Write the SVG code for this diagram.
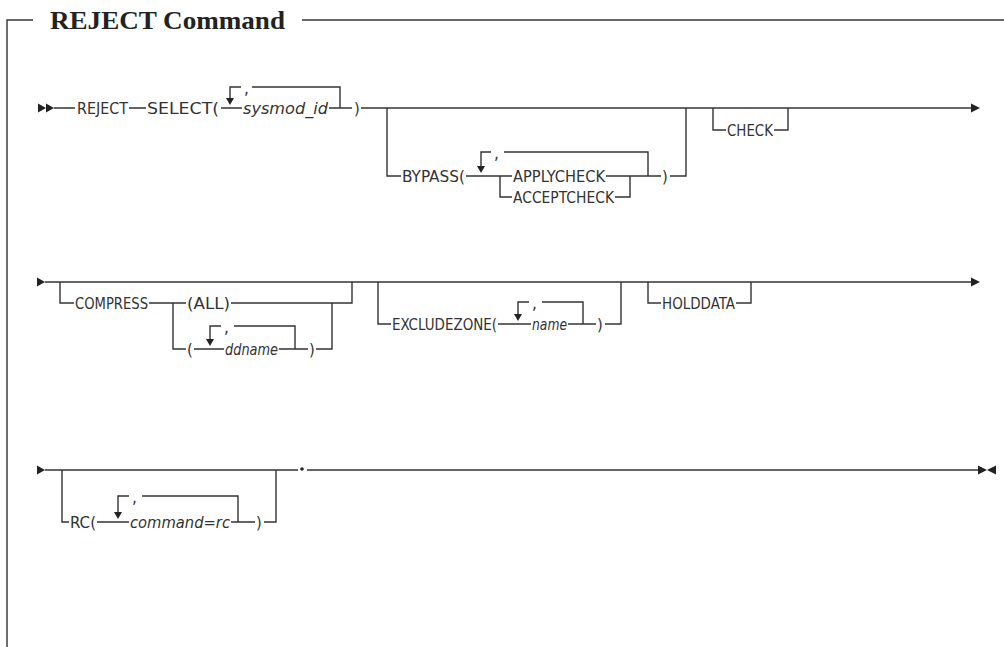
<svg xmlns="http://www.w3.org/2000/svg" width="1004" height="647" viewBox="0 0 1004 647">
<style>
.l{stroke:#333;stroke-width:1.4;fill:none}
.a{fill:#222}
.t{font-family:"DejaVu Sans Condensed","DejaVu Sans",sans-serif;font-stretch:condensed;font-size:16.5px;fill:#333}
.i{font-style:italic}
.c{font-family:"DejaVu Sans Condensed","DejaVu Sans",sans-serif;font-size:17px;fill:#333}
.title{font-family:"Liberation Serif",serif;font-weight:bold;font-size:26px;fill:#222}
</style>
<rect width="1004" height="647" fill="#fff"/>
<g id="frame">
<path class="l" d="M33,20 H7 V647 M302,20 H1004"/>
<text class="title" x="50" y="29" textLength="235" lengthAdjust="spacingAndGlyphs">REJECT Command</text>
</g>
<g id="connectors">
<!-- row 1 -->
<polygon class="a" points="38,103.5 46,108 38,112.5"/>
<polygon class="a" points="46,103.5 54,108 46,112.5"/>
<path class="l" d="M54,108 H75 M129,108 H146 M221,108 H242 M329,108 H352 M361,108 H972"/>
<path class="l" d="M230,101 V87 H241 M252,87 H340 V108"/>
<polygon class="a" points="226,98 234,98 230,105"/>
<path class="l" d="M387,108 V176 H401 M466,176 H512 M606,176 H661 M670,176 H686 V108"/>
<path class="l" d="M481,169 V152 H491 M504,152 H648 V176"/>
<polygon class="a" points="477,166 485,166 481,173"/>
<path class="l" d="M500,176 V197 H512 M615,197 H630 V176"/>
<path class="l" d="M713,108 V130 H726 M774,130 H788 V108"/>
<polygon class="a" points="971,103.5 980,108 971,112.5"/>
<!-- row 2 -->
<polygon class="a" points="37,277.5 45,282 37,286.5"/>
<path class="l" d="M45,282 H972"/>
<polygon class="a" points="971,277.5 980,282 971,286.5"/>
<path class="l" d="M60,282 V303 H74 M149,303 H186 M231,303 H352 V282"/>
<path class="l" d="M173,303 V349 H186 M194,349 H224 M279,349 H308 M316,349 H332 V303"/>
<path class="l" d="M210,342 V326 H221 M234,326 H295 V349"/>
<polygon class="a" points="206,339 214,339 210,346"/>
<path class="l" d="M378,282 V324 H391 M498,324 H531 M568,324 H596 M605,324 H621 V282"/>
<path class="l" d="M518,317 V302 H529 M542,302 H583 V324"/>
<polygon class="a" points="514,314 522,314 518,321"/>
<path class="l" d="M648,282 V303 H661 M736,303 H751 V282"/>
<!-- row 3 -->
<polygon class="a" points="37,465.5 45,470 37,474.5"/>
<path class="l" d="M45,470 H298 M307,470 H978"/>
<circle class="a" cx="302" cy="469" r="1.8"/>
<path class="l" d="M62,470 V522 H69 M97,522 H129 M231,522 H255 M264,522 H276 V470"/>
<path class="l" d="M118,515 V496 H129 M142,496 H238 V522"/>
<polygon class="a" points="114,512 122,512 118,519"/>
<polygon class="a" points="978,465.5 987,470 978,474.5"/>
<polygon class="a" points="996,465.5 987,470 996,474.5"/>
</g>
<g id="REJECT"><text class="t" x="77" y="114" textLength="51" lengthAdjust="spacingAndGlyphs">REJECT</text></g>
<g id="SELECT"><text class="t" x="147" y="114" textLength="72" lengthAdjust="spacingAndGlyphs">SELECT(</text>
<text class="c" x="244" y="94">,</text>
<text class="t i" x="243" y="114" textLength="85" lengthAdjust="spacingAndGlyphs">sysmod_id</text>
<text class="t" x="354" y="114">)</text></g>
<g id="BYPASS"><text class="t" x="402" y="182" textLength="63" lengthAdjust="spacingAndGlyphs">BYPASS(</text>
<text class="c" x="494" y="159">,</text>
<text class="t" x="513" y="182" textLength="92" lengthAdjust="spacingAndGlyphs">APPLYCHECK</text>
<text class="t" x="513" y="203" textLength="101" lengthAdjust="spacingAndGlyphs">ACCEPTCHECK</text>
<text class="t" x="662" y="182">)</text></g>
<g id="CHECK"><text class="t" x="727" y="136" textLength="46" lengthAdjust="spacingAndGlyphs">CHECK</text></g>
<g id="COMPRESS"><text class="t" x="75" y="309" textLength="73" lengthAdjust="spacingAndGlyphs">COMPRESS</text>
<text class="t" x="187" y="309" textLength="43" lengthAdjust="spacingAndGlyphs">(ALL)</text>
<text class="t" x="187" y="355">(</text>
<text class="c" x="224" y="333">,</text>
<text class="t i" x="225" y="355" textLength="53" lengthAdjust="spacingAndGlyphs">ddname</text>
<text class="t" x="309" y="355">)</text></g>
<g id="EXCLUDEZONE"><text class="t" x="392" y="330" textLength="105" lengthAdjust="spacingAndGlyphs">EXCLUDEZONE(</text>
<text class="c" x="532" y="309">,</text>
<text class="t i" x="532" y="330" textLength="35" lengthAdjust="spacingAndGlyphs">name</text>
<text class="t" x="597" y="330">)</text></g>
<g id="HOLDDATA"><text class="t" x="662" y="309" textLength="73" lengthAdjust="spacingAndGlyphs">HOLDDATA</text></g>
<g id="RC"><text class="t" x="70" y="528" textLength="26" lengthAdjust="spacingAndGlyphs">RC(</text>
<text class="c" x="132" y="503">,</text>
<text class="t i" x="130" y="528" textLength="100" lengthAdjust="spacingAndGlyphs">command=rc</text>
<text class="t" x="256" y="528">)</text></g>
</svg>
